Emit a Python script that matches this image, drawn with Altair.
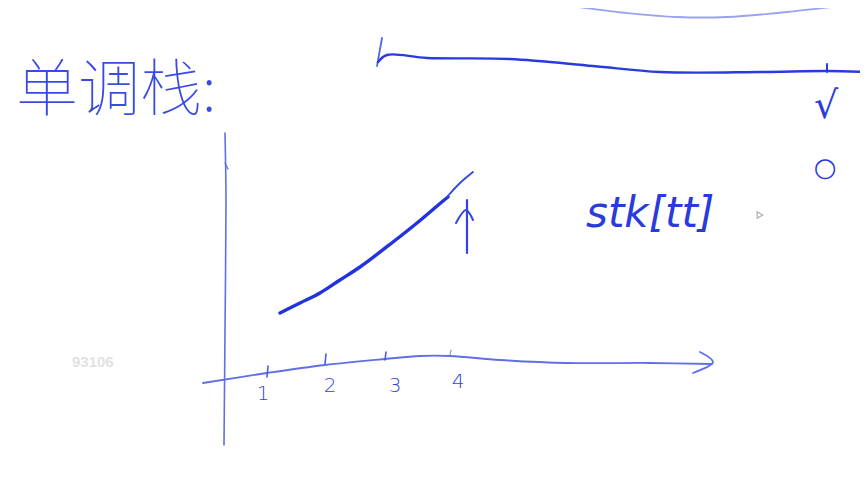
import pandas as pd
import altair as alt

# hand-drawn strokes, traced from the whiteboard (page pixel coordinates)
v_axis = [(225, 133), (226, 200), (225, 330), (224, 445)]
v_axis_hook = [(225, 163), (228, 169)]
h_axis = [(203, 383), (267, 373), (325, 365), (385, 359), (420, 356), (450, 356),
          (500, 360), (567, 363), (650, 363), (712, 364)]
h_arrow = [(700, 352), (713, 362), (693, 373)]
tick_1 = [(268, 366), (267, 377)]
tick_2 = [(326, 354), (325, 364)]
tick_3 = [(386, 352), (385, 360)]
tick_4 = [(451, 350), (450, 355)]
rise = [(280, 313), (300, 303), (320, 293), (340, 280), (360, 267), (393, 242),
          (417, 223), (443, 201), (448, 197)]
rise_tail = [(447, 197), (460, 183), (473, 172)]
up_shaft = [(467, 200), (467, 253)]
up_head = [(456, 223), (466, 210), (473, 220)]
top_mark = [(382, 38), (377, 66)]
top_line = [(378, 62), (387, 55), (427, 58), (510, 59), (593, 66), (660, 72),
            (760, 72), (827, 71), (868, 72)]
top_tick = [(827, 64), (827, 72)]
faint_line = [(490, 0), (560, 5), (627, 13), (677, 17), (727, 17), (777, 13), (840, 6)]

tick_labels = ["1", "2", "3", "4"]
tick_label_x = [263, 330, 395, 458]
tick_label_y = [394, 386, 386, 382]

strokes = {
    "v_axis": (v_axis, "#5f6fe8", 1.6),
    "v_axis_hook": (v_axis_hook, "#5f6fe8", 1.3),
    "h_axis": (h_axis, "#5f6fe8", 1.8),
    "h_arrow": (h_arrow, "#5f6fe8", 1.8),
    "tick_1": (tick_1, "#4a5ae6", 1.6),
    "tick_2": (tick_2, "#4a5ae6", 1.6),
    "tick_3": (tick_3, "#4a5ae6", 1.6),
    "tick_4": (tick_4, "#8c97ee", 1.2),
    "rise": (rise, "#2233dd", 3.4),
    "rise_tail": (rise_tail, "#3444e0", 1.8),
    "up_shaft": (up_shaft, "#3444e0", 2.2),
    "up_head": (up_head, "#3444e0", 2.0),
    "top_mark": (top_mark, "#5565e6", 1.8),
    "top_line": (top_line, "#2a3bdd", 2.4),
    "top_tick": (top_tick, "#2a3bdd", 2.0),
    "faint_line": (faint_line, "#9aa3ef", 1.8),
}

rows = []
for name, (pts, col, w) in strokes.items():
    for i, (x, y) in enumerate(pts):
        rows.append({"stroke": name, "i": i, "x": x, "y": y, "col": col, "w": w})
df = pd.DataFrame(rows)

xs = alt.Scale(domain=[8, 860])
ys = alt.Scale(domain=[474, 8])

lines = alt.Chart(df).mark_line(interpolate="catmull-rom", strokeCap="round",
                                strokeJoin="round").encode(
    x=alt.X("x:Q", scale=xs, axis=None),
    y=alt.Y("y:Q", scale=ys, axis=None),
    detail="stroke:N",
    order="i:Q",
    color=alt.Color("col:N", scale=None),
    strokeWidth=alt.StrokeWidth("w:Q", scale=None),
)

ticks_df = pd.DataFrame({"label": tick_labels, "x": tick_label_x, "y": tick_label_y})
tick_text = alt.Chart(ticks_df).mark_text(fontSize=20, color="#3444e0",
                                          font="DejaVu Sans", fontWeight=300).encode(
    x=alt.X("x:Q", scale=xs, axis=None),
    y=alt.Y("y:Q", scale=ys, axis=None),
    text="label:N",
)

def note(text, x, y, size, color="#2a3bdd", align="center", font="Noto Sans CJK SC",
         weight="normal", style="normal"):
    return alt.Chart().mark_text(text=text, fontSize=size, color=color, align=align,
                                 baseline="middle", font=font, fontWeight=weight,
                                 fontStyle=style).encode(
        x=alt.datum(x, scale=xs), y=alt.datum(y, scale=ys))

title = note("单调栈:", 16, 92, 62, color="#3a4ae2", align="left", weight=100)
stk = note("stk[tt]", 586, 214, 42, align="left", font="DejaVu Sans", weight=300,
           style="italic")
check = note("√", 826, 107, 38, font="DejaVu Sans")
ring = note("○", 825, 168, 26, font="DejaVu Sans")
mark_id = note("93106", 72, 362, 15, color="#e2e2e2", align="left",
               font="Liberation Sans", weight="bold")
cursor = alt.Chart().mark_point(shape="triangle", size=40, filled=False,
                                color="#888888", angle=330, strokeWidth=1.2).encode(
    x=alt.datum(759, scale=xs), y=alt.datum(215, scale=ys))

chart = (
    alt.layer(lines, tick_text, title, stk, check, ring, mark_id, cursor)
    .properties(width=852, height=466, padding=0, autosize="none", background="white")
    .configure_view(stroke=None)
)

chart.save("out.html", embed_options={"renderer": "svg", "actions": False})
